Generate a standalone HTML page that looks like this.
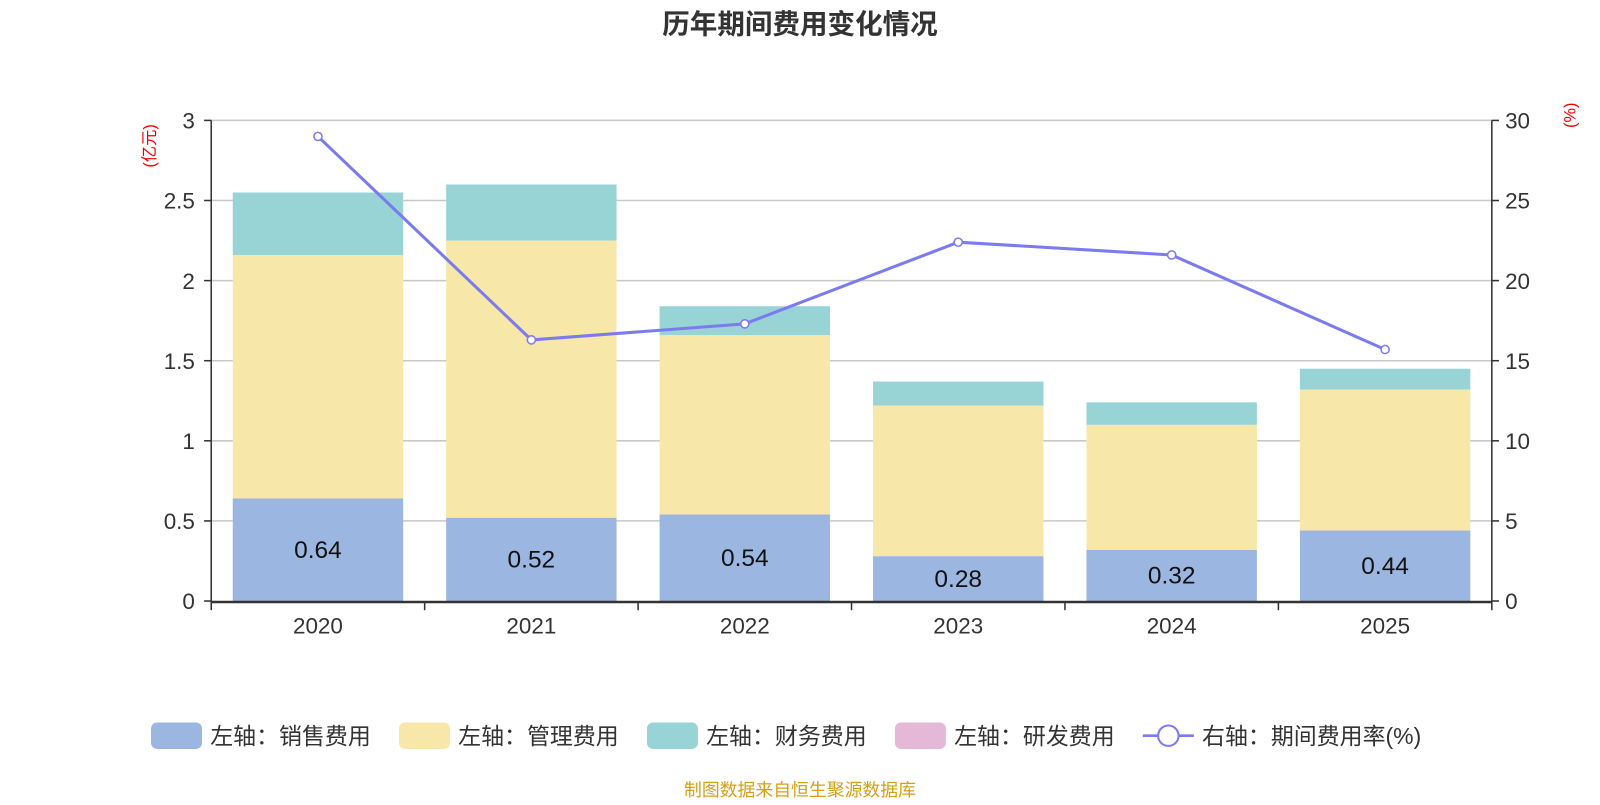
<!DOCTYPE html>
<html><head><meta charset="utf-8"><style>
body{margin:0;background:#fff;}
text{font-family:"Liberation Sans","Noto Sans CJK SC",sans-serif;}
</style></head><body>
<svg id="c" width="1600" height="800" viewBox="0 0 1600 800" xmlns="http://www.w3.org/2000/svg">
<g transform="scale(1.0204)">
<text x="784" y="33" text-anchor="middle" font-size="27" font-weight="bold" fill="#333">历年期间费用变化情况</text>
<text x="0" y="0" transform="translate(152,143) rotate(-90)" text-anchor="middle" font-size="16" fill="#e00">(亿元)</text>
<text x="0" y="0" transform="translate(1544,113) rotate(-90)" text-anchor="middle" font-size="16" fill="#e00">(%)</text>
<g id="grid"></g><g id="bars"></g><g id="axes"></g><g id="line"></g>
<g font-size="22.5" fill="#333">
<rect x="148" y="708" width="50" height="26" rx="6" fill="#9bb6e0"/>
<text x="206" y="729">左轴：销售费用</text>
<rect x="391" y="708" width="50" height="26" rx="6" fill="#f7e7a8"/>
<text x="449" y="729">左轴：管理费用</text>
<rect x="634" y="708" width="50" height="26" rx="6" fill="#98d4d5"/>
<text x="692" y="729">左轴：财务费用</text>
<rect x="877" y="708" width="50" height="26" rx="6" fill="#e6b8d8"/>
<text x="935" y="729">左轴：研发费用</text>
<line x1="1120" y1="721" x2="1170" y2="721" stroke="#7b7bef" stroke-width="2.5"/>
<circle cx="1145" cy="721" r="10" fill="#fff" stroke="#7b7bef" stroke-width="2"/>
<text x="1178" y="729">右轴：期间费用率(%)</text>
</g>
<text x="784" y="780" text-anchor="middle" font-size="17.5" fill="#d4a017">制图数据来自恒生聚源数据库</text>
</g>
</svg>
<script>
const years=["2020","2021","2022","2023","2024","2025"];
const sales=[0.64,0.52,0.54,0.28,0.32,0.44];
const admin=[1.52,1.73,1.12,0.94,0.78,0.88];
const finance=[0.39,0.35,0.18,0.15,0.14,0.13];
const rd=[0,0,0,0,0,0];
const rate=[29.0,16.3,17.3,22.4,21.6,15.7];
const leftTicks=["0","0.5","1","1.5","2","2.5","3"];
const rightTicks=["0","5","10","15","20","25","30"];
const NS="http://www.w3.org/2000/svg";
const X0=207,X1=1462,Y0=589,Y1=118;
const band=(X1-X0)/years.length;
const yL=v=>Y0-(v/3)*(Y0-Y1);
const yR=v=>Y0-(v/30)*(Y0-Y1);
const xc=i=>X0+band*(i+0.5);
function mk(tag,attrs,parent){const e=document.createElementNS(NS,tag);for(const k in attrs)e.setAttribute(k,attrs[k]);document.getElementById(parent).appendChild(e);return e;}
leftTicks.forEach((t,i)=>{const v=parseFloat(t);const y=yL(v);
 if(i>0){const g=mk('line',{x1:X0,x2:X1,y1:y,y2:y,stroke:'#c8c8c8','stroke-width':1.5},'grid');
 
 }
 const tl=mk('line',{x1:X0-7,x2:X0,y1:y,y2:y,stroke:'#333','stroke-width':1.5},'axes');
 
 
 const tx=mk('text',{x:X0-16,y:y+8,'text-anchor':'end','font-size':22,fill:'#333'},'axes');tx.textContent=t;
 
 
});
rightTicks.forEach(t=>{const y=yR(parseFloat(t));
 const tl=mk('line',{x1:X1,x2:X1+7,y1:y,y2:y,stroke:'#333','stroke-width':1.5},'axes');
 
 
 const tx=mk('text',{x:X1+13,y:y+8,'font-size':22,fill:'#333'},'axes');tx.textContent=t;
 
 
});
[[X0,Y1,X0,Y0+1,'left-axis'],[X1,Y1,X1,Y0+1,'right-axis'],[X0,Y0+1,X1,Y0+1,'x-axis']].forEach(a=>{
 const l=mk('line',{x1:a[0],y1:a[1],x2:a[2],y2:a[3],stroke:'#333','stroke-width':a[4]=='x-axis'?2.5:1.5},'axes');
 
 
});
for(let i=0;i<=years.length;i++){const x=X0+band*i;
 const l=mk('line',{x1:x,x2:x,y1:Y0,y2:Y0+9,stroke:'#333','stroke-width':1.5},'axes');
 
 }
const bw=167;
years.forEach((yr,i)=>{
 const tx=mk('text',{x:xc(i),y:Y0+32,'text-anchor':'middle','font-size':22,fill:'#333'},'axes');tx.textContent=yr;
 
 
 let base=0;
 [[sales,'#9bb6e0','bar-sales'],[admin,'#f7e7a8','bar-admin'],[finance,'#98d4d5','bar-finance'],[rd,'#e6b8d8','bar-rd']].forEach(s=>{
  const v=s[0][i];const r=mk('rect',{x:xc(i)-bw/2,y:yL(base+v),width:bw,height:yL(base)-yL(base+v),fill:s[1]},'bars');
  
  
  base+=v;});
 const lb=mk('text',{x:xc(i),y:(yL(sales[i])+Y0)/2+8,'text-anchor':'middle','font-size':24,fill:'#111'},'bars');lb.textContent=sales[i].toFixed(2);
 
 
});
const pl=mk('polyline',{points:rate.map((v,i)=>xc(i)+','+yR(v)).join(' '),fill:'none',stroke:'#7b7bef','stroke-width':3},'line');


rate.forEach((v,i)=>{const c=mk('circle',{cx:xc(i),cy:yR(v),r:4,fill:'#fff',stroke:'#7b7bef','stroke-width':1.5},'line');
 
 });
</script>
</body></html>
